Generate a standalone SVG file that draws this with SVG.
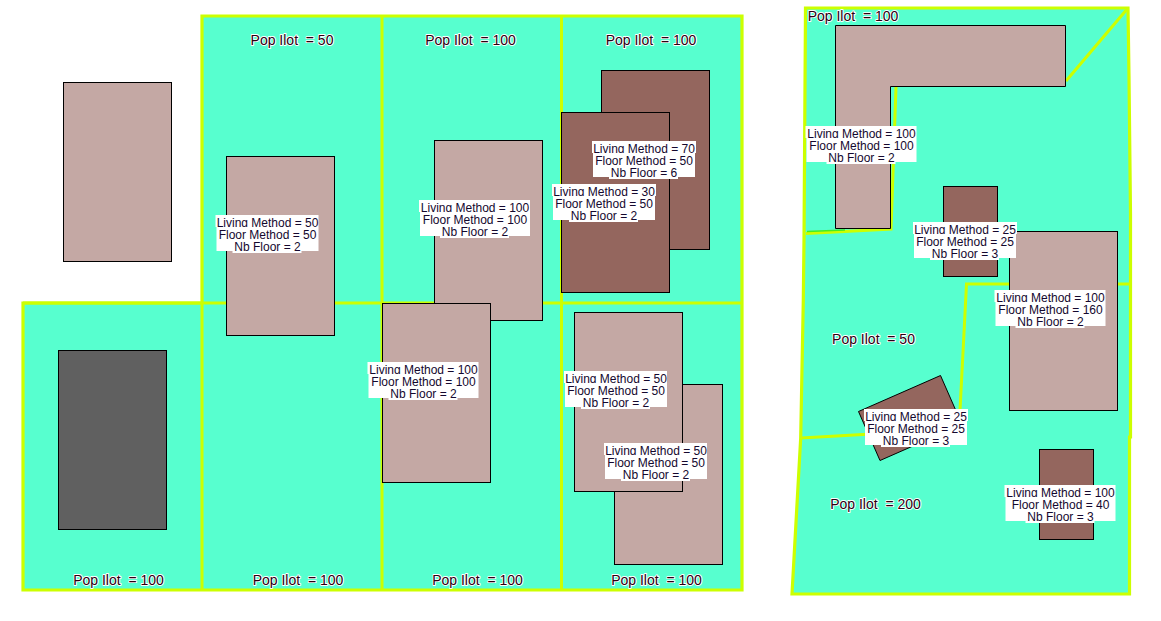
<svg xmlns="http://www.w3.org/2000/svg" width="1161" height="621" viewBox="0 0 1161 621">
<style>
.ilot{fill:#57ffcf;stroke:none}
.edge{fill:none;stroke:#ccff00;stroke-width:3.200;stroke-linejoin:miter}
.inner{fill:none;stroke:#ccff00;stroke-width:3}
.light{fill:#c4a8a4;stroke:#000;stroke-width:1}
.dark{fill:#94665e;stroke:#000;stroke-width:1}
.grey{fill:#606060;stroke:#000;stroke-width:1}
.bg{fill:#fff}
text{font-family:"Liberation Sans",Arial,sans-serif;font-size:12px;text-anchor:middle;white-space:pre}
.l{fill:#14082e}
.p{fill:#2a0010;stroke:#fff;stroke-width:1.800px;paint-order:stroke;stroke-linejoin:round;font-size:14px}
</style>
<rect width="1161" height="621" fill="#fff"/>
<g id="parcels-left">
<path class="ilot" d="M202 16H742V590H23V303H202Z"/>
<path class="inner" d="M382 16V590M561.500 16V590M202 303V590M23 303H742"/>
<path class="edge" d="M202 303V16H742V590H23V303H202"/>
</g>
<g id="parcels-right">
<path class="ilot" d="M805.500 8H1128L1129 76L1130.500 214V437H1129.500V594H792L800.700 438L803.300 300L804 240Z"/>
<path class="inner" d="M1128 8L1066 81M896 87L891 229L806 233.500M1129 284H966.500L959 430M801 438L960 429"/>
<path d="M807 231.500L845 230" fill="none" stroke="#44ee22" stroke-width="1.500"/>
<path class="edge" d="M805.500 8H1128L1129 76L1130.500 214V437H1129.500V594H792L800.700 438L803.300 300L804 240Z"/>
</g>
<g id="b1"><rect class="light" x="63.500" y="82.500" width="108" height="179"/></g>
<g id="b2"><rect class="grey" x="58.500" y="350.500" width="108" height="179"/></g>
<g id="b3"><rect class="light" x="226.500" y="156.500" width="108" height="179"/></g>
<g id="b4"><rect class="light" x="434.500" y="140.500" width="108" height="180"/></g>
<g id="b5"><rect class="light" x="382.500" y="303.500" width="108" height="179"/></g>
<g id="b6"><rect class="dark" x="601.500" y="70.500" width="108" height="179"/></g>
<g id="b7"><rect class="dark" x="561.500" y="112.500" width="108" height="180"/></g>
<g id="b8"><rect class="light" x="614.500" y="384.500" width="108" height="180"/></g>
<g id="b9"><rect class="light" x="574.500" y="312.500" width="108" height="179"/></g>
<g id="b10"><path class="light" d="M835.500 25.500H1065.500V86.500H890.500V228.500H835.500Z"/></g>
<g id="b11"><rect class="dark" x="943.500" y="186.500" width="54" height="90"/></g>
<g id="b12"><rect class="light" x="1009.500" y="231.500" width="108" height="179"/></g>
<g id="b13"><path class="dark" d="M940.500 375.500L858.500 411.500L880 460.500L962 424.500Z"/></g>
<g id="b14"><rect class="dark" x="1039.500" y="449.500" width="54" height="90"/></g>

<g id="label-b3" transform="translate(267.500 227)"><rect class="bg" x="-52" y="-12" width="103" height="12"/><text class="l">Living Method = 50</text><rect class="bg" x="-51" y="0" width="102" height="24"/><text class="l" y="12">Floor Method = 50</text><rect class="bg" x="-35" y="12" width="69" height="14"/><text class="l" y="24">Nb Floor = 2</text></g>
<g id="label-b4" transform="translate(475 212)"><rect class="bg" x="-56" y="-12" width="111" height="12"/><text class="l">Living Method = 100</text><rect class="bg" x="-55" y="0" width="110" height="24"/><text class="l" y="12">Floor Method = 100</text><rect class="bg" x="-35" y="12" width="69" height="14"/><text class="l" y="24">Nb Floor = 2</text></g>
<g id="label-b5" transform="translate(423.500 374)"><rect class="bg" x="-56" y="-12" width="111" height="12"/><text class="l">Living Method = 100</text><rect class="bg" x="-55" y="0" width="110" height="24"/><text class="l" y="12">Floor Method = 100</text><rect class="bg" x="-35" y="12" width="69" height="14"/><text class="l" y="24">Nb Floor = 2</text></g>
<g id="label-b6" transform="translate(644 153)"><rect class="bg" x="-52" y="-12" width="104" height="12"/><text class="l">Living Method = 70</text><rect class="bg" x="-51" y="0" width="102" height="24"/><text class="l" y="12">Floor Method = 50</text><rect class="bg" x="-35" y="12" width="69" height="14"/><text class="l" y="24">Nb Floor = 6</text></g>
<g id="label-b7" transform="translate(604 196)"><rect class="bg" x="-52" y="-12" width="104" height="12"/><text class="l">Living Method = 30</text><rect class="bg" x="-51" y="0" width="102" height="24"/><text class="l" y="12">Floor Method = 50</text><rect class="bg" x="-35" y="12" width="69" height="14"/><text class="l" y="24">Nb Floor = 2</text></g>
<g id="label-b9" transform="translate(616 383)"><rect class="bg" x="-52" y="-12" width="103" height="12"/><text class="l">Living Method = 50</text><rect class="bg" x="-51" y="0" width="102" height="24"/><text class="l" y="12">Floor Method = 50</text><rect class="bg" x="-35" y="12" width="69" height="14"/><text class="l" y="24">Nb Floor = 2</text></g>
<g id="label-b8" transform="translate(656 455)"><rect class="bg" x="-52" y="-12" width="103" height="12"/><text class="l">Living Method = 50</text><rect class="bg" x="-51" y="0" width="102" height="24"/><text class="l" y="12">Floor Method = 50</text><rect class="bg" x="-35" y="12" width="69" height="14"/><text class="l" y="24">Nb Floor = 2</text></g>
<g id="label-b10" transform="translate(861.500 138)"><rect class="bg" x="-56" y="-12" width="111" height="12"/><text class="l">Living Method = 100</text><rect class="bg" x="-55" y="0" width="110" height="24"/><text class="l" y="12">Floor Method = 100</text><rect class="bg" x="-35" y="12" width="69" height="14"/><text class="l" y="24">Nb Floor = 2</text></g>
<g id="label-b11" transform="translate(965 234)"><rect class="bg" x="-52" y="-12" width="104" height="12"/><text class="l">Living Method = 25</text><rect class="bg" x="-51" y="0" width="102" height="24"/><text class="l" y="12">Floor Method = 25</text><rect class="bg" x="-35" y="12" width="69" height="14"/><text class="l" y="24">Nb Floor = 3</text></g>
<g id="label-b12" transform="translate(1050.500 302)"><rect class="bg" x="-56" y="-12" width="111" height="12"/><text class="l">Living Method = 100</text><rect class="bg" x="-55" y="0" width="110" height="24"/><text class="l" y="12">Floor Method = 160</text><rect class="bg" x="-35" y="12" width="69" height="14"/><text class="l" y="24">Nb Floor = 2</text></g>
<g id="label-b13" transform="translate(916 421)"><rect class="bg" x="-52" y="-12" width="104" height="12"/><text class="l">Living Method = 25</text><rect class="bg" x="-51" y="0" width="102" height="24"/><text class="l" y="12">Floor Method = 25</text><rect class="bg" x="-35" y="12" width="69" height="14"/><text class="l" y="24">Nb Floor = 3</text></g>
<g id="label-b14" transform="translate(1060.500 497)"><rect class="bg" x="-56" y="-12" width="111" height="12"/><text class="l">Living Method = 100</text><rect class="bg" x="-55" y="0" width="110" height="24"/><text class="l" y="12">Floor Method = 40</text><rect class="bg" x="-35" y="12" width="69" height="14"/><text class="l" y="24">Nb Floor = 3</text></g>

<g id="pop-labels">
<text class="p" x="292" y="45">Pop Ilot  = 50</text>
<text class="p" x="470.500" y="45">Pop Ilot  = 100</text>
<text class="p" x="651" y="45">Pop Ilot  = 100</text>
<text class="p" x="118.500" y="585">Pop Ilot  = 100</text>
<text class="p" x="298" y="585">Pop Ilot  = 100</text>
<text class="p" x="477.500" y="585">Pop Ilot  = 100</text>
<text class="p" x="656.500" y="585">Pop Ilot  = 100</text>
<text class="p" x="853" y="21">Pop Ilot  = 100</text>
<text class="p" x="873.500" y="344">Pop Ilot  = 50</text>
<text class="p" x="875.500" y="509">Pop Ilot  = 200</text>
</g>
</svg>
